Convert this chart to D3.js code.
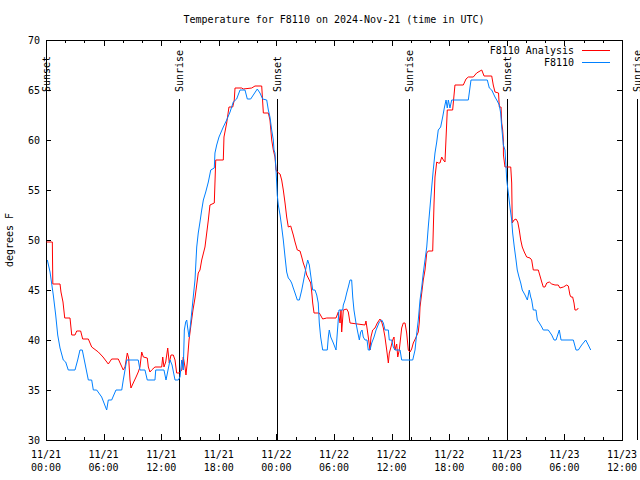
<!DOCTYPE html>
<html>
<head>
<meta charset="utf-8">
<script src="https://cdn.jsdelivr.net/npm/d3@7"></script>
<style>
  html, body { margin: 0; padding: 0; background: #fff; }
  svg { display: block; }
  text { font-family: "DejaVu Sans Mono", "Liberation Mono", monospace; font-size: 10px; fill: #000; }
</style>
</head>
<body>
<div id="chart"></div>
<script>
// ---- Data (hours since 2024-11-21 00:00 UTC, degrees F) ----
const obsHours = [0.14,0.42,0.76,1.01,1.22,1.46,1.80,2.05,2.32,3.02,3.30,3.54,3.78,3.99,4.41,4.76,4.93,5.28,5.80,6.32,6.49,6.84,7.29,7.89,8.05,8.41,9.61,9.79,10.31,10.55,11.35,11.43,12.29,12.50,12.92,13.13,13.44,13.78,13.96,14.14,14.30,14.41,14.55,14.66,14.76,14.90,15.10,15.34,15.52,15.70,15.86,16.04,16.22,16.39,16.64,16.91,17.16,17.53,17.60,17.78,18.02,18.47,18.82,19.17,19.51,19.86,20.21,20.73,20.97,21.32,22.01,22.29,22.57,22.99,23.16,23.33,23.51,23.68,23.75,23.85,23.96,24.03,24.09,24.20,24.38,24.55,24.72,24.90,25.07,25.24,25.42,25.59,25.76,25.94,26.18,26.39,26.64,26.88,27.08,27.26,27.43,27.57,27.78,28.02,28.20,28.36,28.47,28.61,28.82,29.30,29.41,29.51,29.66,29.93,30.21,30.39,30.52,30.91,30.97,31.15,31.32,31.49,31.67,31.84,31.95,32.08,32.29,32.47,32.64,32.78,32.92,33.05,33.23,33.44,33.57,33.75,33.93,34.17,34.38,34.72,34.97,35.14,35.31,35.66,35.76,36.01,36.18,36.35,36.88,37.05,38.20,38.44,38.61,38.78,38.96,39.14,39.30,39.48,39.66,39.82,40.00,40.18,40.34,40.52,40.70,40.86,41.11,41.32,41.49,41.67,41.80,41.91,42.08,42.26,43.99,44.27,45.97,46.18,46.43,46.77,46.95,47.22,47.36,47.47,47.64,47.81,47.92,47.99,48.16,48.33,48.51,48.61,48.78,48.96,49.09,49.27,49.45,49.61,49.90,50.14,50.34,50.49,50.59,50.76,51.04,51.18,51.39,51.64,51.80,52.32,52.68,52.92,53.13,53.30,53.47,53.65,54.93,55.21,55.45,55.80,56.22,56.49,56.74];
const obsTemps = [48,46.8,44.5,42.5,40.5,39.2,38,37.8,37,37,38,39,39,38,36,36,35,35,34.3,33,34,34,35,35,36,38,38,37,37,36,36,37,37,36,38,37.5,36,36,36.3,38,37,41,41.8,42,41.2,40.3,42,44.3,46,49.3,50.7,51.8,53,54,54.8,55.8,57,57.2,58.7,59.5,60.3,61.3,62,62.8,63.8,64.1,65,65,64.1,64.1,65.1,64.7,64.1,64,63,62.3,61,60,59,58.7,57,55.7,54.5,53.5,52.5,51.3,50,48.3,46.8,46.2,46,45.7,45.2,44.7,44,44,45,46.2,47.2,48,47.5,46.5,45,45,44.5,43.7,41.7,40.3,39,39,40.3,41,40.3,39.7,39,41.3,43,43,43.5,44,44.7,45.3,46,46,44.3,43,41.7,40.8,40,40.8,41,40.3,40,40,39,39,39.7,40.3,41,41.8,42,41.7,41,41,40,40,39.3,39,39,38,38,39,40.6,42,44,45.3,46.7,48,49.3,51.3,53.3,55.3,57,58.7,59.8,61,61.3,62.3,63.2,64,63.2,64,63.2,64,64,66,66,65.2,65,64.3,64,63.5,62.7,61.3,59.5,59,57.3,56,54.7,53.3,52,50.7,49.3,48,47,46.3,45.7,45,44.5,44,45,44.3,44,43,43,42,41.7,41.3,41,41,40.5,40,40,40.5,41,40,40,39,39,39.5,40,39.5,39];

const anaHours = [0.05,0.66,0.71,1.46,1.56,1.77,1.95,2.50,2.68,3.02,3.20,3.61,3.82,4.41,4.76,5.45,5.94,6.49,6.84,7.53,8.05,8.23,8.47,8.61,8.75,8.85,9.09,9.38,9.61,9.79,9.97,10.14,10.55,10.66,10.83,11.01,11.35,12.05,12.16,12.29,12.47,12.68,12.84,13.02,13.26,13.44,13.61,13.89,14.14,14.30,14.48,14.58,14.72,14.90,15.10,15.31,15.52,15.86,16.04,16.22,16.56,16.91,17.08,17.53,17.68,18.47,18.54,18.82,19.06,19.45,19.61,19.69,20.39,20.55,21.43,21.77,22.47,22.64,23.16,23.33,23.51,23.68,23.85,23.96,24.09,24.38,24.55,24.72,24.90,25.07,25.24,25.49,25.76,25.94,26.18,26.46,26.64,26.80,26.98,27.16,27.32,27.57,27.68,27.78,27.92,28.47,28.82,29.24,30.21,30.45,30.63,30.73,30.80,30.97,31.32,31.49,31.67,33.23,33.33,33.47,33.57,33.75,33.85,34.03,34.27,34.51,34.79,34.97,35.14,35.31,35.49,35.66,35.76,35.91,36.11,36.25,36.35,36.53,36.64,36.80,37.05,37.22,37.40,37.57,37.74,37.92,38.09,38.26,38.51,38.78,38.89,38.96,39.14,39.30,39.48,39.66,39.82,40.28,40.42,40.52,40.70,40.86,41.04,41.22,41.39,41.56,41.74,41.80,42.36,42.60,43.47,43.75,43.99,44.51,44.86,45.21,45.39,45.63,46.43,46.59,46.77,47.14,47.22,47.40,47.47,47.57,47.64,47.65,47.81,48.41,48.51,48.57,48.75,48.96,49.14,49.30,49.45,49.61,49.82,50.07,50.42,50.59,50.76,51.28,51.46,51.64,51.80,51.98,52.16,52.43,52.68,53.02,53.36,53.54,53.89,54.24,54.41,54.58,54.69,54.86,55.00,55.10,55.28,55.45];
const anaTemps = [49.8,49.8,45.6,45.6,44.8,43.8,42.2,42.2,40.5,40.5,40.9,40.9,40.1,40.1,39.3,38.8,38.3,37.6,38.1,38.1,37,37.3,38.7,38.2,36,35.2,35.7,36.3,36.8,37.3,38.8,38.3,38.2,37.3,36.8,37,37.3,37.3,38.3,37.3,37.8,39.2,37.7,38.5,38.5,38,36.7,36.7,37,38.3,37.3,36.5,37.8,40,41.5,43,44.2,46.7,47,48,49.3,52,53.5,53.7,58,58,60.3,61.7,63.3,63.3,64,65.2,65.2,65.1,65.2,65.4,65.4,62.7,62.7,62,60,59,58.3,57,56.8,56.6,56,55,53.7,52.3,51.3,51.4,50.5,49.8,49,48.9,48.3,47.7,47.2,46.5,46.2,45.7,44.8,43.7,42.7,42.7,42.1,42.2,42.2,42.8,41.7,43,40.8,43,43.1,42.8,41.7,41.5,41.9,41,40.3,39,40.3,41,41.2,41.7,42.1,41.8,41.2,40.3,39,37.7,38.7,39.2,40,40.3,39,39.6,38.3,39,41.2,41.7,41.7,40.7,39,38.8,39.1,39.7,40.2,40.8,41.8,43.3,44.7,46,47,48.7,48.9,48.9,53.7,56.3,57.8,57.7,57.7,58.3,58,57.8,61.7,63,63,65.5,65.5,66.1,66.3,66.3,66.7,66.9,67,66.4,66.4,65.5,64.8,64.7,63.3,63.3,61.7,61,60,58.5,57.3,57.3,55.7,51.7,52,52.1,51.8,51,50,49.3,48.8,48.3,48.2,48,47,47,46.4,45.8,45.3,45.3,45.7,45.8,45.6,45.5,45.5,45.2,45.3,45.5,45.4,44.5,44.3,44.3,43.7,43,43,43.2];

const sunEvents = ["Sunset","Sunrise","Sunset","Sunrise","Sunset","Sunrise"];
const sunHours = [0.05,13.89,24.10,37.84,47.97,61.53];

const yTicks = [30,35,40,45,50,55,60,65,70];
const seriesNames = ["F8110 Analysis","F8110"];
const seriesColors = ["#ff0000","#0080ff"];
const titleText = "Temperature for F8110 on 2024-Nov-21 (time in UTC)";
const yLabel = "degrees F";

// ---- Layout ----
const W = 640, H = 480;
const L = 46, R = 622, T = 40, B = 440;
const t0 = Date.UTC(2024, 10, 21, 0, 0);
const toDate = h => new Date(t0 + h * 3600e3);

const x = d3.scaleUtc().domain([toDate(0), toDate(60)]).range([L, R]);
const y = d3.scaleLinear().domain([30, 70]).range([B, T]);

const svg = d3.select("#chart").append("svg").attr("width", W).attr("height", H);

// Title
svg.append("text").attr("x", (L + R) / 2).attr("y", 23).attr("text-anchor", "middle").text(titleText);

// Y label
svg.append("text").attr("transform", `translate(13,${(T + B) / 2}) rotate(-90)`)
  .attr("text-anchor", "middle").text(yLabel);

const frame = svg.append("g").attr("shape-rendering", "crispEdges");

// X ticks (2h minor, 6h major)
const minor = d3.range(0, 61, 2).map(toDate);
const major = d3.range(0, 61, 6).map(toDate);
minor.forEach(d => {
  const xx = Math.round(x(d)) + 0.5;
  const len = (d.getUTCHours() % 6 === 0) ? 6 : 3;
  frame.append("line").attr("x1", xx).attr("x2", xx).attr("y1", B).attr("y2", B - len).attr("stroke", "#000");
  frame.append("line").attr("x1", xx).attr("x2", xx).attr("y1", T).attr("y2", T + len).attr("stroke", "#000");
});
const fmtD = d3.utcFormat("%m/%d"), fmtT = d3.utcFormat("%H:%M");
major.forEach(d => {
  const g = svg.append("text").attr("x", x(d)).attr("text-anchor", "middle");
  g.append("tspan").attr("x", x(d)).attr("y", 458).text(fmtD(d));
  g.append("tspan").attr("x", x(d)).attr("y", 471).text(fmtT(d));
});

// Y ticks
yTicks.forEach(v => {
  const yy = Math.round(y(v)) + 0.5;
  frame.append("line").attr("x1", L).attr("x2", L + 5).attr("y1", yy).attr("y2", yy).attr("stroke", "#000");
  frame.append("line").attr("x1", R).attr("x2", R - 5).attr("y1", yy).attr("y2", yy).attr("stroke", "#000");
  svg.append("text").attr("x", 40).attr("y", y(v)).attr("dy", "0.35em").attr("text-anchor", "end").text(v);
});

// Frame
frame.append("rect").attr("x", L + 0.5).attr("y", T + 0.5).attr("width", R - L).attr("height", B - T)
  .attr("fill", "none").attr("stroke", "#000");

// Sun events (the last label runs past the right edge, as in the original)
sunHours.forEach((h, i) => {
  const xx = Math.round(x(toDate(h))) + 0.5;
  frame.append("line").attr("x1", xx).attr("x2", xx).attr("y1", 99).attr("y2", B).attr("stroke", "#000");
  svg.append("text").attr("transform", `translate(${xx},92) rotate(-90)`)
    .attr("text-anchor", "start").attr("dy", "0.35em").text(sunEvents[i]);
});

// Lines
const line = d3.line().x(d => x(toDate(d[0]))).y(d => y(d[1]));
const anaData = anaHours.map((h, i) => [h, anaTemps[i]]);
const obsData = obsHours.map((h, i) => [h, obsTemps[i]]);
svg.append("path").datum(anaData).attr("d", line).attr("fill", "none").attr("stroke", seriesColors[0]).attr("stroke-width", 1);
svg.append("path").datum(obsData).attr("d", line).attr("fill", "none").attr("stroke", seriesColors[1]).attr("stroke-width", 1);

// Legend
[0, 1].forEach(i => {
  const ly = 50 + i * 12;
  svg.append("text").attr("x", 574).attr("y", ly).attr("dy", "0.35em").attr("text-anchor", "end").text(seriesNames[i]);
  svg.append("line").attr("x1", 582).attr("x2", 610).attr("y1", ly + 0.5).attr("y2", ly + 0.5)
    .attr("stroke", seriesColors[i]).attr("stroke-width", 1).attr("shape-rendering", "crispEdges");
});
</script>
</body>
</html>
